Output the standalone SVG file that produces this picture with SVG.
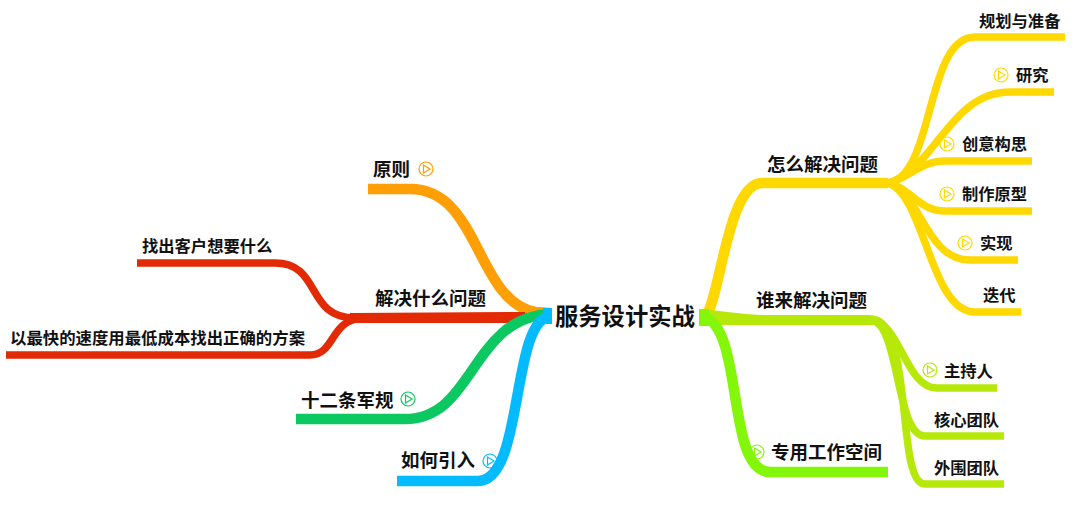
<svg xmlns="http://www.w3.org/2000/svg" width="1080" height="508" viewBox="0 0 1080 508">
<style>
text{font-family:"Noto Sans CJK SC","Noto Sans",sans-serif;font-weight:700;fill:#111}
.c{font-size:23.3px}.m{font-size:18.5px}.s{font-size:16.3px}.t{font-size:16.4px}
path{fill:none}
.y{stroke:#FFD800}.l{stroke:#B6E80A}.g{stroke:#84F60A}.o{stroke:#FF9E05}.r{stroke:#E22A05}.e{stroke:#0CC860}.b{stroke:#05BBFF}
.w10{stroke-width:10.5}.w7{stroke-width:7.5}
.i{stroke-width:1.2}
.fl{fill:#B6E80A;stroke:none}.fg{fill:#84F60A;stroke:none}.fb{fill:#05BBFF;stroke:none}.fr{fill:#E22A05;stroke:none}
</style>
<defs>
<g id="play" fill="none"><circle r="7"/><path d="M-2.5,-4L4,0L-2.5,4Z" style="fill:none"/></g>
</defs>
<g id="connectors">
<path class="y w10" d="M706,316C720,298 728,183 762,183L888,183"/>
<path class="y w7" d="M888,183C935,176 925,37 975,37L1065,37"/>
<path class="y w7" d="M888,183C935,170 950,92 1010,92L1054,92"/>
<path class="y w7" d="M888,183C910,178 920,161 945,161L1032,161"/>
<path class="y w7" d="M888,183C910,187 918,211 945,211L1032,211"/>
<path class="y w7" d="M888,183C920,190 925,260 970,260L1018,260"/>
<path class="y w7" d="M888,183C925,195 930,312 975,312L1021,312"/>
<path class="fl" d="M702,309C730,312 745,315 770,315L868,315C880,315 885,320 890,328L875,325L770,325L702,325Z"/>
<path class="l w7" d="M870,320C900,320 905,388 937,388L997,388"/>
<path class="l w7" d="M870,320C900,320 895,436 925,436L1004,436"/>
<path class="l w7" d="M870,320C915,320 895,484 925,484L1004,484"/>
<path class="g w10" d="M702,316C745,325 725,472 770,472L888,472"/>
<path class="fg" d="M699,309L709,309L709,326L699,326Z"/>
<path class="o w10" d="M368,189L410,189C480,189 475,300 535,312L550,313"/>
<path class="fr" d="M350,313L525,312L525,323L350,323Z"/>
<path class="r w7" d="M137,263L275,263C322,263 305,318 355,318"/>
<path class="r w7" d="M6,355L310,355C335,355 330,320 362,318"/>
<path class="e w10" d="M296,419L405,419C475,419 470,318 550,314"/>
<path class="b w10" d="M397,481L478,481C525,481 510,316 552,316"/>
<path class="fb" d="M543,308L552,308L552,324L543,324Z"/>
</g>
<g id="root"><text class="c" x="555" y="325">服务设计实战</text></g>
<g id="n1"><text class="m" x="767" y="171">怎么解决问题</text></g>
<g id="n2"><text class="s" x="979" y="27">规划与准备</text></g>
<g id="n3"><use href="#play" x="1001" y="75" class="i y"/><text class="s" x="1016" y="81">研究</text></g>
<g id="n4"><use href="#play" x="947" y="144" class="i y"/><text class="s" x="962" y="150">创意构思</text></g>
<g id="n5"><use href="#play" x="947" y="194" class="i y"/><text class="s" x="962" y="200">制作原型</text></g>
<g id="n6"><use href="#play" x="965" y="243" class="i y"/><text class="s" x="980" y="249">实现</text></g>
<g id="n7"><text class="s" x="983" y="301">迭代</text></g>
<g id="n8"><text class="m" x="756" y="307">谁来解决问题</text></g>
<g id="n9"><use href="#play" x="930" y="370" class="i l"/><text class="s" x="944" y="377">主持人</text></g>
<g id="n10"><text class="s" x="934" y="426">核心团队</text></g>
<g id="n11"><text class="s" x="934" y="474">外围团队</text></g>
<g id="n12"><use href="#play" x="757" y="452" class="i g"/><text class="m" x="771" y="459">专用工作空间</text></g>
<g id="n13"><text class="m" x="373" y="176">原则</text><use href="#play" x="426" y="169" class="i o"/></g>
<g id="n14"><text class="m" x="375" y="305">解决什么问题</text></g>
<g id="n15"><text class="s" x="142" y="252">找出客户想要什么</text></g>
<g id="n16"><text class="t" x="10" y="344">以最快的速度用最低成本找出正确的方案</text></g>
<g id="n17"><text class="m" x="301" y="407">十二条军规</text><use href="#play" x="408" y="399" class="i e"/></g>
<g id="n18"><text class="m" x="401" y="467">如何引入</text><use href="#play" x="490" y="461" class="i b"/></g>
</svg>
